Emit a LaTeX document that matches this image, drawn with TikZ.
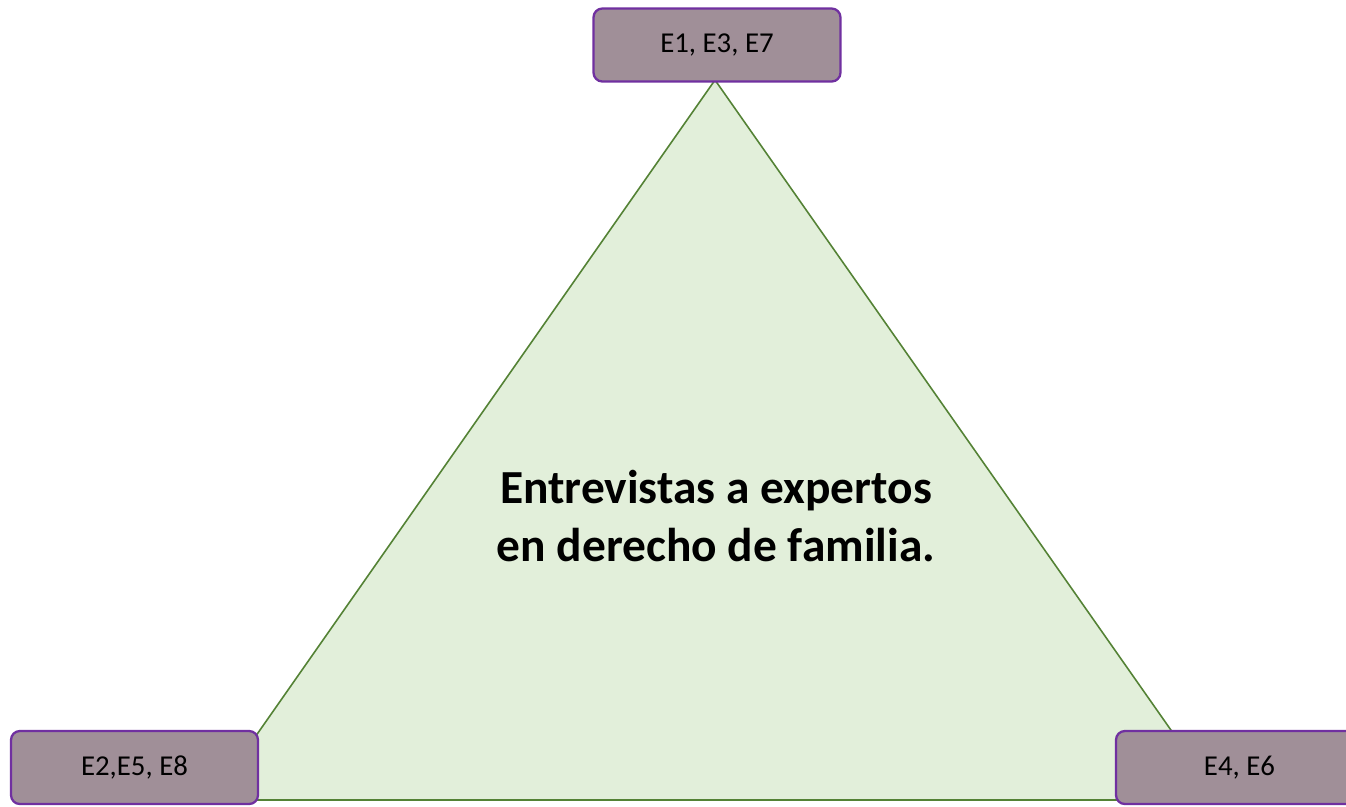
\documentclass[tikz,border=0pt]{standalone}
\usepackage{fontspec}
\setmainfont{Carlito}
\usepackage{xcolor}
\usepackage{tikz}
\definecolor{boxfill}{HTML}{A08F98}
\definecolor{boxline}{HTML}{7030A0}
\definecolor{trifill}{HTML}{E2EFDA}
\definecolor{triline}{HTML}{548235}
\tikzset{
  tri/.style={draw=triline, fill=trifill, line width=0.9pt, line join=miter},
  grp/.style={draw=boxline, fill=boxfill, line width=1.3pt, rounded corners=5pt,
    minimum width=4.94cm, minimum height=1.46cm, font=\fontsize{16.4}{19}\selectfont, text=black},
  title/.style={align=center, font=\fontsize{27}{33}\selectfont\bfseries, text=black},
}
\begin{document}
\begin{tikzpicture}[x=0.02cm, y=-0.02cm]
  \useasboundingbox (0,0) rectangle (1346,806);
  \clip (0,0) rectangle (1346,806);
  \coordinate (T) at (715,80);
  \coordinate (L) at (211,800);
  \coordinate (R) at (1220,800);

  \draw[tri] (T) -- (L) -- (R) -- cycle;
  \node[title] (tema) at (716,516) {Entrevistas a expertos\\en derecho de familia.};

  \node[grp] (top) at (717,45) {E1, E3, E7};
  \node[grp] (izq) at (134.5,767.5) {E2,E5, E8};
  \node[grp] (der) at (1239.5,767.5) {E4, E6};
\end{tikzpicture}
\end{document}
